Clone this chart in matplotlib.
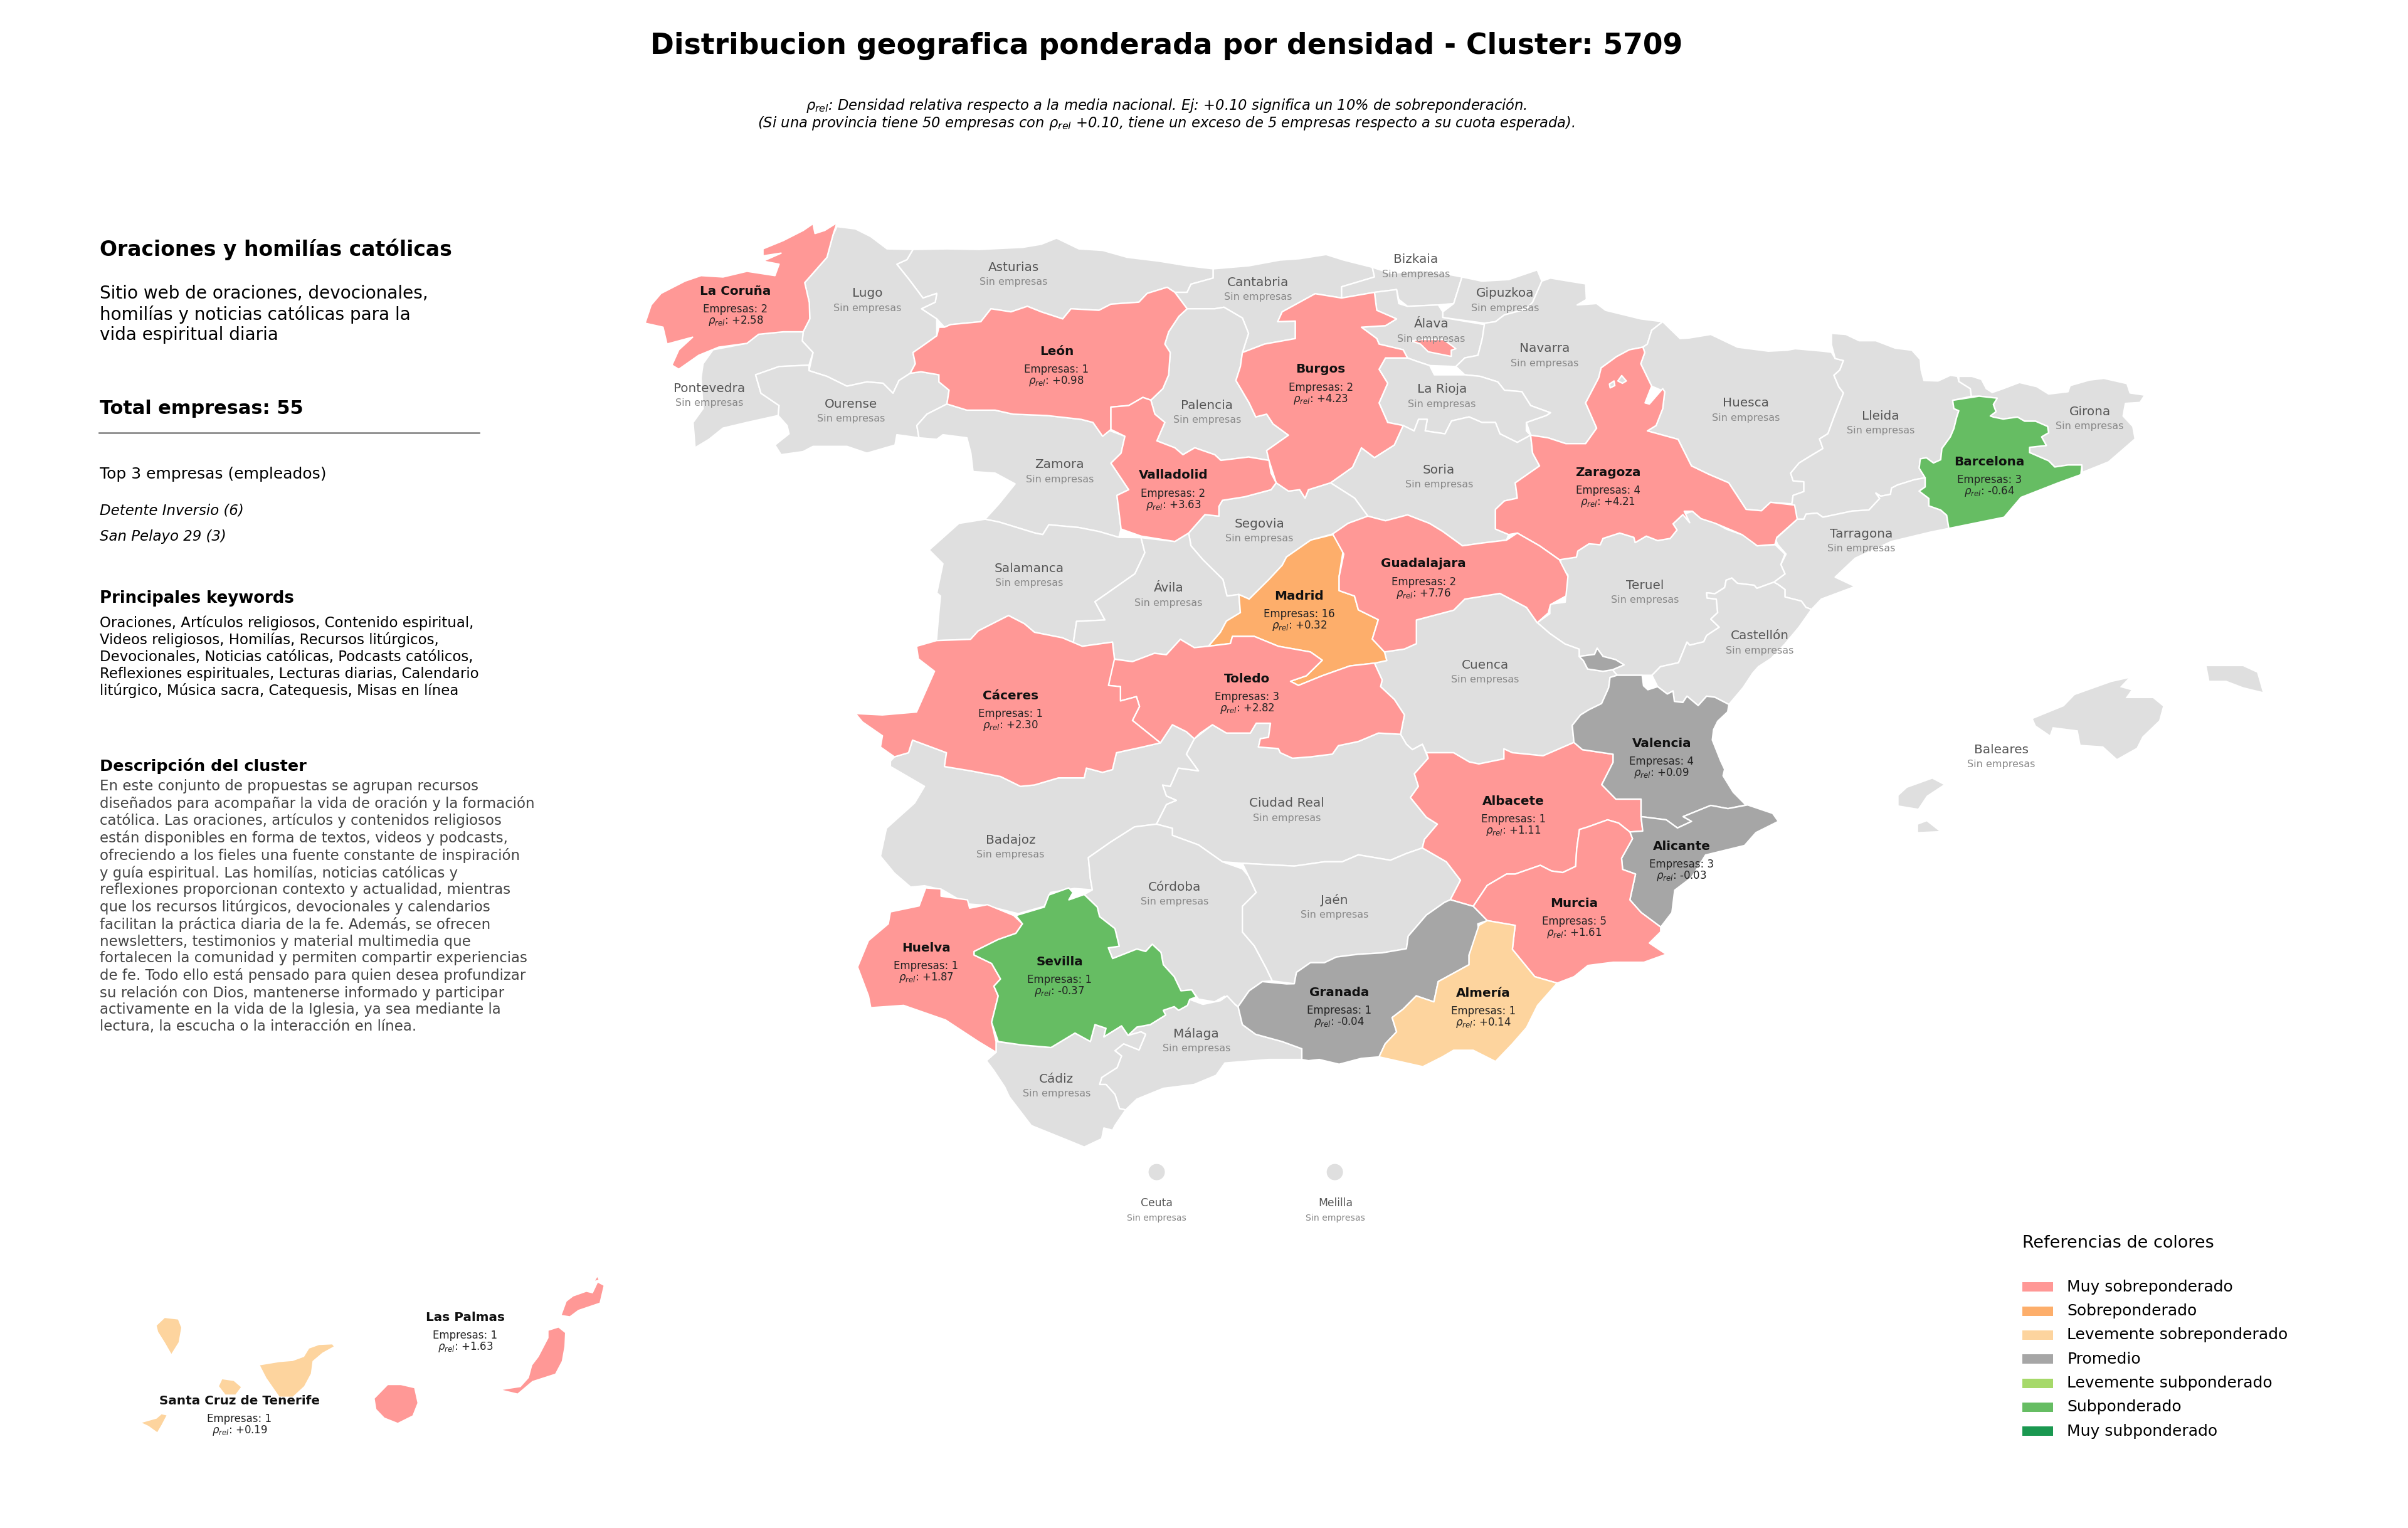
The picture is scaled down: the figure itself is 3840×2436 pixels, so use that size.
import matplotlib
matplotlib.use("Agg")
import matplotlib.pyplot as plt
from matplotlib.patches import Ellipse, Rectangle

TITLE = "Distribucion geografica ponderada por densidad - Cluster: 5709"
SUBTITLE = [
    r"$\rho_{rel}$: Densidad relativa respecto a la media nacional. Ej: +0.10 significa un 10% de sobreponderación.",
    r"(Si una provincia tiene 50 empresas con $\rho_{rel}$ +0.10, tiene un exceso de 5 empresas respecto a su cuota esperada).",
]
HEADING = "Oraciones y homilías católicas"
SUMMARY = "Sitio web de oraciones, devocionales,\nhomilías y noticias católicas para la\nvida espiritual diaria"
TOTAL = "Total empresas: 55"
TOP_TITLE = "Top 3 empresas (empleados)"
TOP_COMPANIES = ["Detente Inversio (6)", "San Pelayo 29 (3)"]
KEYWORDS = ("Oraciones, Artículos religiosos, Contenido espiritual,\n"
            "Videos religiosos, Homilías, Recursos litúrgicos,\n"
            "Devocionales, Noticias católicas, Podcasts católicos,\n"
            "Reflexiones espirituales, Lecturas diarias, Calendario\n"
            "litúrgico, Música sacra, Catequesis, Misas en línea")
DESCRIPTION = ("En este conjunto de propuestas se agrupan recursos\n"
               "diseñados para acompañar la vida de oración y la formación\n"
               "católica. Las oraciones, artículos y contenidos religiosos\n"
               "están disponibles en forma de textos, videos y podcasts,\n"
               "ofreciendo a los fieles una fuente constante de inspiración\n"
               "y guía espiritual. Las homilías, noticias católicas y\n"
               "reflexiones proporcionan contexto y actualidad, mientras\n"
               "que los recursos litúrgicos, devocionales y calendarios\n"
               "facilitan la práctica diaria de la fe. Además, se ofrecen\n"
               "newsletters, testimonios y material multimedia que\n"
               "fortalecen la comunidad y permiten compartir experiencias\n"
               "de fe. Todo ello está pensado para quien desea profundizar\n"
               "su relación con Dios, mantenerse informado y participar\n"
               "activamente en la vida de la Iglesia, ya sea mediante la\n"
               "lectura, la escucha o la interacción en línea.")

LEGEND_LABELS = ["Muy sobreponderado", "Sobreponderado", "Levemente sobreponderado", "Promedio",
                 "Levemente subponderado", "Subponderado", "Muy subponderado"]
LEGEND_COLORS = ["#ff9896", "#fdae6b", "#fdd49e", "#a6a6a6", "#a6d96a", "#66bd63", "#1a9850"]
LAND = "#dfdfdf"

# provinces with companies
NAMES = ["La Coruña", "León", "Burgos", "Valladolid", "Zaragoza", "Barcelona", "Madrid", "Guadalajara",
         "Toledo", "Cáceres", "Albacete", "Valencia", "Alicante", "Murcia", "Huelva", "Sevilla",
         "Granada", "Almería", "Las Palmas", "Santa Cruz de Tenerife"]
EMPRESAS = [2, 1, 2, 2, 4, 3, 16, 2, 3, 1, 1, 4, 3, 5, 1, 1, 1, 1, 1, 1]
RHO = [2.58, 0.98, 4.23, 3.63, 4.21, -0.64, 0.32, 7.76, 2.82, 2.30, 1.11, 0.09, -0.03, 1.61, 1.87,
       -0.37, -0.04, 0.14, 1.63, 0.19]
# provinces without companies
EMPTY_NAMES = ["Asturias", "Lugo", "Cantabria", "Bizkaia", "Gipuzkoa", "Álava", "Navarra", "Pontevedra",
               "Ourense", "Palencia", "La Rioja", "Huesca", "Lleida", "Girona", "Soria", "Zamora", "Segovia",
               "Tarragona", "Salamanca", "Ávila", "Teruel", "Castellón", "Cuenca", "Ciudad Real", "Badajoz",
               "Córdoba", "Jaén", "Málaga", "Cádiz", "Baleares", "Ceuta", "Melilla"]
ISLANDS = ["Baleares", "Las Palmas", "Santa Cruz de Tenerife"]

# outlines, map units
LA_CORUNA = [[(545, 145), (542.4, 153), (538.5, 167.5), (524, 184), (527, 197), (527.3, 207.6), (523, 216), (510, 216),
              (494, 217.6), (486.4, 223.5), (468, 226), (455, 231.3), (442, 240.4), (437.5, 237.7), (442, 227.7),
              (451, 219.5), (434.3, 224), (431.7, 213), (420, 210.4), (424, 198.5), (430.4, 191), (446, 183),
              (456.5, 179.4), (470.8, 180.3), (486.4, 176.6), (504.6, 179.4), (507.3, 172), (496.8, 170),
              (508.6, 164.8), (496.8, 166.6), (496.8, 162), (510, 156.6), (523, 150), (529.4, 145.6), (530.7, 152),
              (537, 150)]]
LUGO = [[(545, 147.5), (557, 149), (567, 154), (577.6, 162), (594.5, 162.4), (590.6, 169), (584, 172), (592, 182),
         (601, 194), (610, 191), (609, 196.7), (600, 201), (610, 207.6), (610, 218.6), (601, 225), (594.5, 229.5),
         (596, 236.8), (592.7, 243), (585.4, 247.7), (581.5, 256), (575, 249.5), (564.5, 248.6), (551.5, 251.4),
         (538.5, 245), (526.8, 241.3), (529.4, 229.5), (522.4, 222), (523, 216), (527.3, 207.6), (527, 197),
         (524, 184), (538.5, 167.5), (542.4, 153)]]
ASTURIAS = [[(594.5, 162.4), (616.6, 162), (637.5, 162.4), (666, 161), (678, 159), (688, 155), (702.5, 162), (718, 163),
             (734, 167.5), (754.6, 170), (773, 173), (790, 175), (790, 181), (775.5, 185), (773, 190.3), (765, 190.3),
             (760, 187), (747, 191), (741.6, 196.7), (723.4, 198), (715.6, 202), (697.4, 201), (692, 207.6),
             (678, 203), (669, 199.4), (658.3, 203), (645.3, 201), (638.7, 209.4), (619, 211.3), (615, 213),
             (610, 207.6), (600, 201), (609, 196.7), (610, 191), (601, 194), (592, 182), (584, 172), (590.6, 169)]]
LEON = [[(615, 213), (619, 211.3), (638.7, 209.4), (645.3, 201), (658.3, 203), (669, 199.4), (678, 203), (692, 207.6),
         (697.4, 201), (715.6, 202), (723.4, 198), (741.6, 196.7), (747, 191), (760, 187), (765, 190.3), (773, 201),
         (767.6, 206), (761, 216), (758.5, 224), (762, 229.5), (761, 244), (757.2, 253), (749.4, 260.5),
         (744.2, 258.7), (735, 264), (723.4, 265), (723.4, 279.6), (718, 284), (711.7, 275), (704, 273),
         (681.7, 270.5), (659.6, 269.6), (648, 267), (629.6, 267), (616.6, 263), (618, 254), (611.4, 248.6),
         (611.4, 244), (599.7, 242), (592.7, 243), (596, 236.8), (594.5, 229.5), (601, 225), (610, 218.6),
         (611.4, 213)]]
VALLADOLID = [[(723.4, 265), (735, 264), (744.2, 258.7), (749.4, 260.5), (752, 269.6), (758.5, 275), (753.3, 287),
               (765, 291.5), (770.3, 296), (778, 291.5), (791, 296), (795, 299.7), (813, 297.5), (826.3, 299.7),
               (827.7, 308), (831, 314.3), (827.7, 318.8), (810.5, 323.4), (796, 325.7), (793.7, 329.7), (793.7, 336),
               (784.6, 335), (774, 347), (765, 352.5), (743, 349), (730, 344.4), (727.3, 322.5), (735, 318.8),
               (723.4, 301.5), (730, 295), (732.5, 284), (723.4, 279.6)]]
BURGOS = [[(809, 229.5), (823.4, 224), (843.5, 220.4), (843.5, 209), (832, 209.4), (834.9, 203), (856.4, 191.2),
           (873.6, 194), (895, 190.3), (896.5, 202), (909.4, 207.6), (902.2, 212), (886.5, 213), (896.5, 220.4),
           (898, 224), (913.7, 227.7), (916.5, 233), (902.2, 233), (898, 240.4), (903.6, 249.5), (898, 262.3),
           (903.6, 275), (913.7, 277), (907.9, 289.7), (895, 297.9), (886.5, 291.5), (880.7, 304.2), (866.4, 314.3),
           (852, 318.8), (849.8, 324.3), (846.3, 318.8), (839, 319.7), (831, 314.3), (826.3, 299.7), (824.8, 293.3),
           (839, 283.3), (829, 276), (824.8, 269.6), (817.7, 271.4), (813.4, 262.3), (804.8, 247.7), (807.7, 238.6)],
          [(919, 222), (925, 221), (940, 221), (948, 227), (945, 228), (945, 232), (930, 229), (925, 224)]]
PALENCIA = [[(773, 201), (791, 201), (797, 200), (809, 207), (813, 217), (809, 229.5), (807.7, 238.6), (804.8, 247.7),
             (813.4, 262.3), (817.7, 271.4), (824.8, 269.6), (829, 276), (839, 283.3), (824.8, 293.3), (826.3, 299.7),
             (813, 297.5), (795, 299.7), (791, 296), (778, 291.5), (770.3, 296), (765, 291.5), (753.3, 287),
             (758.5, 275), (752, 269.6), (749.4, 260.5), (757.2, 253), (761, 244), (762, 229.5), (758.5, 224),
             (761, 216), (767.6, 206)]]
CANTABRIA = [[(790, 175), (813.4, 173), (833.4, 169.3), (846.3, 168.4), (863.5, 165.7), (875, 169.3), (893.6, 174),
              (895, 180.3), (873.6, 186.7), (874, 194), (856.4, 191.2), (834.9, 203), (832, 209.4), (843.5, 209),
              (843.5, 220.4), (823.4, 224), (809, 229.5), (813, 217), (809, 207), (797, 200), (791, 201), (773, 201),
              (765, 190.3), (773, 190.3), (775.5, 185), (790, 181)]]
BIZKAIA = [[(893.6, 174), (906, 178), (925, 176), (940, 178), (952, 180.3), (946.6, 197.6), (936.6, 198.5),
            (916.5, 199.4), (910.8, 194.9), (909.4, 188.5), (902.2, 189.4), (895, 190.3), (873.6, 194), (873.6, 186.7),
            (895, 180.3)]]
GIPUZKOA = [[(952, 180.3), (965, 183), (982.4, 182), (1001, 175.7), (1004, 183), (998, 196.7), (993.9, 201.2),
             (979.6, 205), (973.8, 209.4), (966.7, 210.4), (939.5, 206.7), (939.5, 203), (946.6, 197.6)]]
ALAVA = [[(896.5, 202), (895, 190.3), (902.2, 189.4), (909.4, 188.5), (910.8, 197.6), (916.5, 199.4), (936.6, 198.5),
          (939.5, 203), (939.5, 206.7), (966.7, 211.3), (965.2, 220.4), (962.4, 231.3), (953.8, 233), (948, 238.6),
          (931, 238), (922, 235), (916.5, 233), (913.7, 227.7), (898, 224), (896.5, 220.4), (886.5, 213),
          (902.2, 212), (909.4, 207.6)]]
NAVARRA = [[(1004, 183), (1009.6, 181), (1015.4, 182), (1032.5, 184.8), (1033, 195), (1027, 198.5), (1039.7, 197.6),
            (1045.5, 202), (1068.4, 207.6), (1082.7, 209.4), (1075.5, 215), (1072.7, 224), (1069.8, 226), (1061, 227.7),
            (1052.6, 232.2), (1042.6, 239.5), (1041, 246), (1032.5, 262.3), (1039.7, 278.7), (1032.5, 288.8),
            (1019.6, 288.8), (1008, 285), (996.7, 283.3), (993.9, 275), (1006.8, 270.5), (1009.6, 268.7), (996.7, 264),
            (991, 255), (979.6, 254), (975.3, 248.6), (963.8, 245), (953.8, 244), (948, 238.6), (953.8, 233),
            (962.4, 231.3), (965.2, 220.4), (966.7, 210.4), (973.8, 209.4), (979.6, 205), (993.9, 201.2), (998, 196.7)]]
LA_RIOJA = [[(916.5, 233), (922, 235), (931, 238), (934, 244), (942, 244), (953.8, 244), (963.8, 245), (975.3, 248.6),
             (979.6, 254), (991, 255), (996.7, 264), (1009.6, 268.7), (1006.8, 270.5), (993.9, 275), (993.9, 280.5),
             (996.7, 283.3), (988, 288), (976.7, 282.4), (973.8, 275), (965, 275), (956.6, 271.4), (945.2, 274),
             (940.9, 282.4), (928, 280.5), (929.4, 273), (923.7, 273), (920.8, 280.5), (913.7, 277), (903.6, 275),
             (898, 262.3), (903.6, 249.5), (898, 240.4), (902.2, 233)]]
SORIA = [[(913.7, 277), (920.8, 280.5), (923.7, 273), (929.4, 273), (928, 280.5), (940.9, 282.4), (945.2, 274),
          (956.6, 271.4), (965, 275), (973.8, 275), (976.7, 282.4), (988, 288), (996.7, 283.3), (998, 295),
          (1002.5, 303.3), (986.7, 314.3), (988, 324.3), (979.6, 326.1), (973.8, 331.6), (973.8, 344.4), (982.4, 348),
          (981, 351.6), (965.2, 353.5), (952.3, 355.3), (939.5, 346), (930.8, 340.7), (916.5, 335.2), (902.2, 339),
          (890.7, 336), (882.1, 324.3), (866.4, 314.3), (880.7, 304.2), (886.5, 291.5), (895, 297.9), (907.9, 289.7)]]
ZARAGOZA = [[(1069.8, 226), (1071, 229.5), (1068.4, 236.8), (1075.5, 251.4), (1071.2, 262.3), (1074, 263), (1082.7, 253),
             (1084, 255), (1082.7, 266), (1078.4, 277), (1072.7, 280.5), (1092.7, 286), (1101.4, 303.3), (1112.8, 308.8),
             (1125.7, 314.3), (1137, 331.6), (1147, 332.5), (1152.9, 327), (1168.6, 328.8), (1170.3, 338),
             (1157, 349.8), (1155.8, 354.4), (1144.3, 355.3), (1134.3, 348), (1117, 340.7), (1107.6, 337.6), (1102, 332.8),
             (1096.7, 332.8), (1100.3, 340.3), (1095.8, 335), (1089.4, 341), (1092, 345), (1087.6, 350.5), (1079.4, 351.9),
             (1072, 349), (1064.8, 353.2), (1063.9, 349.8), (1054.7, 347), (1043.8, 350.5), (1042, 354.6), (1034.7, 354),
             (1027.4, 358.7), (1026.5, 362.7), (1015.4, 364.4), (1002.5, 355.3), (988, 347), (982.4, 348), (973.8, 344.4),
             (973.8, 331.6), (979.6, 326.1), (988, 324.3), (986.7, 314.3), (1002.5, 303.3), (998, 295), (996.7, 283.3),
             (1008, 285), (1019.6, 288.8), (1032.5, 288.8), (1039.7, 278.7), (1032.5, 262.3), (1041, 246), (1042.6, 239.5),
             (1052.6, 232.2), (1061, 227.7)]]
ZARAGOZA_HOLES = [[(1048, 250), (1051, 248), (1051.5, 251), (1048.5, 252.5)],
                  [(1053.5, 248), (1056, 244.5), (1059, 248), (1056.5, 249.5)]]
HUESCA = [[(1082.7, 209.4), (1094, 220.4), (1100, 220), (1114, 217.7), (1131.4, 226), (1151.5, 228.6), (1163.7, 228),
           (1169, 227), (1187, 228.6), (1192.6, 229.3), (1195, 233.4), (1200.4, 234.7), (1198, 240.9), (1194.2, 244.3),
           (1197.3, 251.7), (1200.4, 255.8), (1194, 272.1), (1190.3, 282.3), (1184.8, 285.7), (1187, 292), (1179.3, 296.6),
           (1171.5, 301.4), (1166, 308), (1167.6, 313), (1174.6, 313.6), (1174.6, 320), (1167.6, 322.5), (1166.8, 328),
           (1152.9, 327), (1147, 332.5), (1137, 331.6), (1125.7, 314.3), (1112.8, 308.8), (1101.4, 303.3), (1092.7, 286),
           (1072.7, 280.5), (1078.4, 277), (1082.7, 266), (1084, 255), (1075.5, 251.4), (1068.4, 236.8), (1071, 229.5),
           (1069.8, 226), (1072.7, 224), (1075.5, 215)]]
LLEIDA = [[(1192.6, 217), (1202, 217.7), (1210.6, 221.8), (1221.5, 221.8), (1234, 226.6), (1245, 228), (1250.4, 234),
           (1251, 240.9), (1252.8, 247.7), (1262, 248), (1270, 244.3), (1274.7, 245), (1275.5, 248.3), (1283, 253),
           (1283.7, 258), (1271.5, 260.6), (1272.3, 266), (1275.5, 267.4), (1274, 272), (1272.3, 279), (1270, 284.4),
           (1264.5, 292), (1263.7, 299.3), (1259, 301.4), (1254.4, 298), (1250.4, 298.7), (1249.7, 304.8), (1253.6, 311),
           (1246.5, 312.3), (1235.6, 315.7), (1231.7, 317.7), (1231, 321.8), (1224.7, 323), (1221.5, 321), (1224, 324.5),
           (1217, 332), (1206, 332.7), (1187, 336.7), (1183.2, 334), (1176, 334.7), (1174.6, 338), (1170.3, 338),
           (1166.8, 328), (1167.6, 322.5), (1174.6, 320), (1174.6, 313.6), (1167.6, 313), (1166, 308), (1171.5, 301.4),
           (1179.3, 296.6), (1187, 292), (1184.8, 285.7), (1190.3, 282.3), (1194, 272.1), (1200.4, 255.8), (1197.3, 251.7),
           (1194.2, 244.3), (1198, 240.9), (1200.4, 234.7), (1195, 233.4), (1192.6, 224.5)]]
GIRONA = [[(1275.5, 245), (1284, 245), (1290.3, 247), (1293.4, 253), (1297.3, 255.5), (1304.4, 253), (1315, 249),
           (1326.3, 251.7), (1334, 256.5), (1346.6, 255), (1348, 251), (1360.6, 247.4), (1370, 246.3), (1385, 249.7),
           (1387, 255.8), (1396.6, 257.2), (1393.5, 262), (1384, 262.6), (1382.5, 270.8), (1388.8, 277.6), (1390.3, 285.7),
           (1382.5, 292.5), (1373, 300.7), (1356, 307.5), (1355.6, 302.7), (1346.6, 302.7), (1338, 304), (1334, 300),
           (1321.6, 294.6), (1321.6, 291.2), (1332.5, 290), (1329.4, 284.4), (1334, 281.7), (1333.3, 277.6), (1325.5, 274.2),
           (1318.4, 274.2), (1313.7, 271.5), (1304.4, 272.8), (1298, 271.5), (1296, 270.8), (1299.7, 268), (1298, 263.3),
           (1300.5, 259.2), (1288.7, 257.9), (1283.7, 258), (1283, 253), (1275.5, 248.3)]]
BARCELONA = [[(1271.5, 260.6), (1288.7, 257.9), (1300.5, 259.2), (1298, 263.3), (1299.7, 268), (1296, 270.8), (1298, 271.5),
              (1304.4, 272.8), (1313.7, 271.5), (1318.4, 274.2), (1325.5, 274.2), (1333.3, 277.6), (1334, 281.7),
              (1329.4, 284.4), (1332.5, 290), (1321.6, 291.2), (1321.6, 294.6), (1334, 300), (1338, 304), (1346.6, 302.7),
              (1355.6, 302.7), (1355, 309), (1340.3, 314.3), (1316, 323.8), (1305, 336.7), (1269, 344), (1267.6, 335.4),
              (1263.7, 332), (1256, 329.3), (1256, 324.5), (1249.7, 319.7), (1253.6, 317), (1253.6, 311), (1249.7, 304.8),
              (1250.4, 298.7), (1254.4, 298), (1259, 301.4), (1263.7, 299.3), (1264.5, 292), (1270, 284.4), (1272.3, 279),
              (1274, 272), (1275.5, 267.4), (1272.3, 266)]]
TARRAGONA = [[(1170.3, 338), (1174.6, 338), (1176, 334.7), (1183.2, 334), (1187, 336.7), (1206, 332.7), (1217, 332),
              (1224, 324.5), (1221.5, 321), (1224.7, 323), (1231, 321.8), (1231.7, 317.7), (1235.6, 315.7), (1246.5, 312.3),
              (1253.6, 311), (1253.6, 317), (1249.7, 319.7), (1256, 324.5), (1256, 329.3), (1263.7, 332), (1267.6, 335.4),
              (1269, 344), (1257.5, 346.3), (1231.6, 352.5), (1208, 363.4), (1195, 375.7), (1208, 381.8), (1186, 390),
              (1179.6, 396.7), (1176, 395.4), (1173, 391.3), (1162.3, 388.6), (1162.3, 383.8), (1157.7, 380.4), (1155, 379),
              (1162.3, 373.6), (1159.6, 367.5), (1163, 360.7), (1157.7, 354.6), (1156, 351)]]
TERUEL = [[(1016.5, 364.1), (1026.5, 362.7), (1027.4, 358.7), (1034.7, 354), (1042, 354.6), (1043.8, 350.5), (1054.7, 347),
           (1063.9, 349.8), (1064.8, 353.2), (1072, 349), (1079.4, 351.9), (1087.6, 350.5), (1092, 345), (1089.4, 341),
           (1095.8, 335), (1102, 332.8), (1107.6, 337.6), (1116.7, 340.3), (1124, 344.4), (1136.8, 349), (1144, 355.3),
           (1156, 354.6), (1162.3, 360.7), (1159.6, 367.5), (1162.3, 373.6), (1155, 379), (1144, 383), (1142.3, 381),
           (1131.3, 379.7), (1127.7, 376.3), (1124, 377.7), (1123, 382.5), (1116.7, 386.5), (1111.3, 385.9), (1111.6, 389.3),
           (1117.6, 390), (1118.5, 398.8), (1114, 403), (1119.5, 408.3), (1111.3, 413.7), (1109.4, 417.8), (1100.3, 420),
           (1098.5, 418), (1093, 431.4), (1081.2, 434), (1075.7, 439.6), (1069.3, 439.6), (1053, 439.6), (1050, 436),
           (1057.5, 432.8), (1052, 429.4), (1043.8, 427.3), (1040, 422), (1038.3, 426), (1028.3, 427.3), (1028.3, 422.6),
           (1019, 419.2), (1009.2, 412.4), (1001, 405.3), (1009.2, 399.5), (1009.2, 393.3), (1019.2, 392), (1020, 381),
           (1021, 374.3), (1015.5, 369)]]
CASTELLON = [[(1179.6, 396.7), (1176, 395.4), (1173, 391.3), (1162.3, 388.6), (1162.3, 383.8), (1157.7, 380.4), (1155, 379),
              (1144, 383), (1142.3, 381), (1131.3, 379.7), (1127.7, 376.3), (1124, 377.7), (1123, 382.5), (1116.7, 386.5),
              (1111.3, 385.9), (1111.6, 389.3), (1117.6, 390), (1118.5, 398.8), (1114, 403), (1119.5, 408.3), (1111.3, 413.7),
              (1109.4, 417.8), (1100.3, 420), (1098.5, 418), (1093, 431.4), (1081.2, 434), (1075.7, 439.6), (1079.4, 447),
              (1085.7, 451.8), (1089.4, 449.8), (1090.3, 456.6), (1095.8, 457.3), (1098.5, 453.2), (1105.8, 459.3),
              (1111.3, 453.2), (1116.7, 453.9), (1125.8, 458.6), (1135, 447.7), (1141.3, 438.2), (1145, 434), (1153.2, 428.7),
              (1162.3, 419.2), (1171.4, 408.3)]]
VALENCIA = [[(1048.4, 441), (1053, 439.6), (1069.3, 439.6), (1070.2, 446.4), (1073, 449), (1079.4, 447), (1085.7, 451.8),
             (1089.4, 449.8), (1090.3, 456.6), (1095.8, 457.3), (1098.5, 453.2), (1105.8, 459.3), (1111.3, 453.2),
             (1116.7, 453.9), (1125.8, 458.6), (1125, 463.4), (1118.5, 469.5), (1115.8, 475), (1115, 481.7), (1120.4, 495.3),
             (1123, 500.8), (1122, 505), (1128.6, 515.7), (1136.8, 524), (1125.2, 526.4), (1114, 524.3), (1096, 531.6),
             (1101.5, 534.7), (1092.3, 539), (1085, 533.7), (1068.6, 531.6), (1068.6, 520.2), (1052.2, 520.2), (1043, 510.8),
             (1050.4, 496.2), (1050.4, 491), (1030.4, 488), (1024.9, 483.3), (1023.8, 472.2), (1029.2, 465.4), (1034.7, 462),
             (1042.9, 458), (1047.5, 447.7)],
            [(1028.3, 427.3), (1038.3, 426), (1040, 422), (1043.8, 427.3), (1052, 429.4), (1057.5, 432.8), (1050, 436),
             (1043.8, 437), (1033.8, 435.5), (1031, 430)]]
ALICANTE = [[(1068.6, 531.6), (1085, 533.7), (1092.3, 539), (1101.5, 534.7), (1096, 531.6), (1114, 524.3), (1125.2, 526.4),
             (1138, 524), (1154.3, 529.5), (1158, 534.7), (1143.4, 542), (1136, 550.4), (1110.6, 556.6), (1101.5, 571.2),
             (1090.5, 579.5), (1088.7, 594), (1081.4, 603.5), (1068.6, 594), (1061.3, 585.8), (1065, 569), (1056.6, 566),
             (1055.9, 558.7), (1063, 546), (1061.3, 541.6), (1069.7, 541)]]
MURCIA = [[(959.3, 590), (968.4, 576.4), (981, 569), (986.6, 569), (1003, 563.3), (1010.3, 567), (1017.6, 568), (1026, 564),
           (1026.7, 552.5), (1028.5, 540), (1034, 538.3), (1046.8, 533.7), (1054, 535.8), (1061.3, 541.6), (1063, 546),
           (1055.9, 558.7), (1056.6, 566), (1065, 569), (1061.3, 585.8), (1068.6, 594), (1081.4, 603.5), (1081.4, 606.6),
           (1074, 613.9), (1085, 621.2), (1070.5, 626.4), (1050.4, 626.4), (1034, 628.5), (1025, 635.8), (1014, 640),
           (999.4, 635.8), (984.8, 618), (986.6, 602.4), (968.4, 599.3)]]
ALBACETE = [[(928.8, 490), (939.2, 490), (946.5, 490), (956.7, 496), (963, 497.3), (979.3, 494), (979.3, 487.5), (984.8, 490),
             (1004.8, 492), (1024.9, 483.3), (1030.4, 488), (1050.4, 491), (1050.4, 496.2), (1043, 510.8), (1052.2, 520.2),
             (1068.6, 520.2), (1068.6, 531.6), (1069.7, 541), (1061.3, 541.6), (1054, 535.8), (1046.8, 533.7), (1034, 538.3),
             (1028.5, 540), (1026.7, 552.5), (1026, 564), (1017.6, 568), (1010.3, 567), (1003, 563.3), (986.6, 569), (981, 569),
             (968.4, 576.4), (959.3, 590), (944.4, 585.7), (951, 573), (941.8, 561), (926.2, 552), (927.5, 546.5), (936, 536.5),
             (928.8, 532), (918.4, 519.2), (923.6, 511.9), (921, 503.7), (930, 493.6)]]
CUENCA = [[(922.3, 403.6), (946.6, 397.2), (953.8, 390), (976.7, 386.3), (994, 395.4), (1001, 405.3), (1009.2, 412.4),
           (1019, 419.2), (1028.3, 422.6), (1028.3, 427.3), (1031, 430), (1033.8, 435.5), (1043.8, 437), (1050, 436),
           (1053, 439.6), (1048.4, 441), (1047.5, 447.7), (1042.9, 458), (1034.7, 462), (1029.2, 465.4), (1023.8, 472.2),
           (1024.9, 483.3), (1004.8, 492), (984.8, 490), (979.3, 487.5), (979.3, 494), (963, 497.3), (956.7, 496),
           (946.5, 490), (928.8, 490), (926.2, 484.5), (919.7, 488), (915.8, 484.5), (912, 478), (914.5, 465.4), (908, 455.4),
           (899, 447), (900, 442.6), (895, 431.7), (903, 430), (901.5, 424.4), (914.5, 422.5), (922.3, 419)]]
GUADALAJARA = [[(867.8, 347.6), (877.8, 340.7), (890.7, 336), (902.2, 339), (916.5, 335.2), (930.8, 340.7), (939.5, 346),
                (952.3, 355.3), (965.2, 353.5), (981, 351.6), (988, 347), (1002.5, 355.3), (1015.4, 364.4), (1021, 375.3),
                (1019.7, 388), (1009.6, 393.6), (1008.2, 399), (1001, 405.4), (994, 395.4), (976.7, 386.3), (953.8, 390),
                (946.6, 397.2), (922.3, 403.6), (922.3, 419), (914.5, 422.5), (901.5, 424.4), (893.6, 416), (897.5, 403.4),
                (884.5, 397), (882, 388), (872, 384.5), (872, 375.3), (875, 360.7)]]
MADRID = [[(867.8, 348), (875, 356), (872, 375), (872, 384.5), (882, 388), (884.5, 397), (897.5, 403.4), (893.6, 416),
           (901.5, 424.4), (903, 430), (895, 431.7), (879, 433.5), (861, 439.9), (845.5, 446.2), (840.3, 443.5), (850.7, 439.9),
           (861, 429.8), (853.3, 424.4), (832.4, 420.7), (816.8, 414.3), (802.5, 414.3), (801.2, 418.9), (786.9, 420.7),
           (794.7, 411.6), (798.6, 404.3), (807.7, 398.8), (806.7, 387), (813.4, 390), (826.3, 377.2), (834.9, 368),
           (837.7, 362.6), (853.5, 351.6)]]
TOLEDO = [[(724.4, 429), (737.4, 430.7), (751.7, 425.3), (759.5, 426.2), (768.6, 416.2), (777.7, 421.6), (786.9, 420.7),
           (801.2, 418.9), (802.5, 414.3), (816.8, 414.3), (832.4, 420.7), (853.3, 424.4), (861, 429.8), (850.7, 439.9),
           (840.3, 443.5), (845.5, 446.2), (861, 439.9), (879, 433.5), (895, 431.7), (900, 442.6), (899, 447), (908, 455.4),
           (914.5, 465.4), (912, 478), (897.6, 477.2), (884.5, 482.7), (871.5, 485.4), (867.6, 490.9), (853.3, 492.7),
           (841.6, 493.6), (833.7, 490), (832.4, 487.3), (819.4, 486.3), (820.7, 480.9), (826, 480), (827.3, 470.8),
           (818, 470.8), (814.2, 477.2), (798.6, 477.2), (789.5, 471.8), (781.6, 477.2), (777.7, 480.9), (772.5, 476.3),
           (763.4, 471.8), (755.6, 483.6), (737.4, 469), (742, 459.9), (740, 453.5), (729.6, 456.3), (729.6, 447), (721.8, 446.2)]]
CACERES = [[(596.8, 420.7), (609.8, 417), (632, 416.2), (637, 410.7), (656.7, 400.7), (667, 406), (673.6, 411.6), (691.8, 415.2),
            (704.8, 420.7), (724.4, 418), (725.7, 429), (721.8, 446.2), (729.6, 447), (729.6, 456.3), (740, 453.5), (742, 459.9),
            (737.4, 469), (755.6, 483.6), (743.9, 486.3), (727, 490), (724.4, 501), (717.9, 502.8), (707.4, 500), (706, 506.4),
            (689.2, 506.4), (673.6, 511), (664.5, 511.9), (651.5, 505.5), (632, 501.8), (615, 499), (616.3, 490), (594.2, 481.8),
            (591.6, 490), (582.4, 492.7), (573.3, 486.3), (574.6, 479), (561.6, 470), (557, 464.5), (574.6, 465.4), (596.8, 463.5),
            (608.5, 437), (598, 428.9)]]
SALAMANCA = [[(641.4, 338), (650.5, 339.8), (674, 347), (679, 348), (683, 341.6), (702.5, 343.4), (715.6, 346), (728.6, 349.8),
              (743, 350), (745.5, 359.8), (739, 373.5), (720.8, 386.3), (713, 391.7), (719.5, 403.6), (701, 404.5), (698.6, 420.5),
              (704.8, 420.7), (691.8, 415.2), (673.6, 411.6), (667, 406), (656.7, 400.7), (637, 410.7), (632, 416.2), (609.8, 417),
              (611, 402.5), (612.4, 388), (610, 386), (614, 367), (605, 358), (624.4, 340.7)]]
ZAMORA = [[(616.6, 263), (629.6, 267), (648, 267), (659.6, 269.6), (681.7, 270.5), (704, 273), (711.7, 275), (718, 284), (720.8, 279.6),
           (732.5, 284), (730, 295), (723.4, 301.5), (735, 318.8), (727.3, 322.5), (730, 344.4), (728.6, 349.8), (715.6, 346),
           (702.5, 343.4), (683, 341.6), (679, 348), (674, 347), (650.5, 339.8), (641.4, 338), (650.5, 328), (661, 315), (648, 308),
           (633.6, 307), (632.2, 295), (629.6, 285), (614, 283), (610, 286), (598.4, 285), (597, 277), (603.6, 269.6)]]
OURENSE = [[(526.8, 237.7), (507.3, 238.6), (492, 244), (495.5, 256), (507.3, 264), (506.7, 270.5), (512.5, 277), (513.8, 282.4),
            (504.6, 289.7), (508.6, 296), (522.9, 294), (529.4, 290.6), (551.5, 290.6), (564.5, 295), (582.8, 289.7), (584, 283),
            (598.4, 285), (597, 277), (603.6, 269.6), (616.6, 263), (618, 254), (611.4, 248.6), (611.4, 244), (599.7, 242),
            (592.7, 243), (585.4, 247.7), (581.5, 256), (575, 249.5), (564.5, 248.6), (551.5, 251.4), (538.5, 245), (526.8, 241.3)]]
PONTEVEDRA = [[(494, 217.6), (510, 216), (523, 216), (522.4, 222), (529.4, 229.5), (526.8, 237.7), (507.3, 238.6), (492, 244),
               (495.5, 256), (507.3, 264), (506.7, 270.5), (486.4, 275), (470.8, 278.7), (461.7, 286), (452.6, 291.5), (451.3, 275),
               (457.8, 266), (456.5, 246), (457.8, 236.8), (464.3, 227.7), (486.4, 223.5)]]
SEGOVIA = [[(774, 347), (784.6, 335), (793.7, 336), (793.7, 329.7), (796, 325.7), (810.5, 323.4), (827.7, 318.8), (831, 314.3),
            (839, 319.7), (846.3, 318.8), (849.8, 324.3), (852, 318.8), (866.4, 314.3), (882.1, 324.3), (890.7, 336), (877.8, 340.7),
            (867.8, 347.6), (853.5, 351.6), (837.7, 362.6), (834.9, 368), (826.3, 377.2), (813.4, 390), (806.7, 387), (799, 388),
            (796.3, 377.2), (783.3, 364.4), (775.5, 355.3)]]
AVILA = [[(743, 350), (765, 352.5), (774, 347), (775.5, 355.3), (783.3, 364.4), (796.3, 377.2), (799, 388), (806.7, 387),
          (807.7, 398.8), (798.6, 404.3), (794.7, 411.6), (786.9, 420.7), (777.7, 421.6), (768.6, 416.2), (759.5, 426.2),
          (751.7, 425.3), (737.4, 430.7), (725.7, 429), (724.4, 418), (704.8, 420.7), (698.6, 420.5), (701, 404.5), (719.5, 403.6),
          (713, 391.7), (720.8, 386.3), (739, 373.5), (745.5, 359.8)]]
BADAJOZ = [[(579.8, 495.5), (582.4, 492.7), (591.6, 490), (594.2, 481.8), (616.3, 490), (615, 499), (632, 501.8), (651.5, 505.5),
            (664.5, 511.9), (673.6, 511), (689.2, 506.4), (706, 506.4), (707.4, 500), (717.9, 502.8), (724.4, 501), (727, 490),
            (743.9, 486.3), (755.6, 483.6), (763.4, 471.8), (772.5, 476.3), (777.7, 480.9), (772.5, 490.9), (780.4, 501.8),
            (767.3, 500), (762, 511.9), (757, 511), (759.5, 518.2), (766, 521), (759.5, 523.7), (753, 536.5), (738.7, 538.3),
            (723, 548.3), (708.7, 558.3), (710, 572), (711.3, 579.3), (699.6, 578.4), (684, 581), (680, 590), (663, 594.8),
            (641, 589.3), (629.3, 588.4), (613.7, 579.3), (602, 576.6), (593, 577.5), (582.4, 568.4), (573.3, 557.4), (577.2, 539.2),
            (595.5, 522.8), (602, 511.9), (579.8, 499)]]
HUELVA = [[(602.8, 578), (612.8, 578.7), (612.8, 583.4), (630, 585.8), (631.4, 591.2), (642.9, 588.9), (660, 595.9), (665.8, 601.4),
           (661.5, 607.6), (650, 611.6), (634.3, 619.4), (634.3, 621.7), (645.7, 627.2), (651.5, 637.3), (647.2, 642), (650, 648.3),
           (645.7, 665.5), (648.6, 678), (648.6, 685), (637, 678), (615.7, 664), (588.4, 654.5), (567, 656), (565.5, 648.3),
           (558.4, 629.5), (565.5, 612.3), (578.4, 601.4), (579.8, 593.6), (598.5, 589.7)]]
SEVILLA = [[(661.5, 596), (680, 590.5), (683, 582.6), (695.9, 578), (698.7, 581), (696, 585.8), (706, 582.3), (714.5, 590.5),
            (716, 596.7), (726, 604.5), (728.8, 616), (721.7, 617), (724.5, 624), (740.3, 617.8), (746, 619.4), (750.3, 614.7),
            (756, 620), (757.5, 628), (764.6, 635.8), (769, 645), (776, 644.4), (779, 649), (774.7, 650.6), (773.2, 654.5),
            (767.5, 657.7), (764.6, 655.3), (757.5, 657.7), (759, 660.8), (749, 667), (740.3, 668.6), (734.6, 674), (730.3, 667.8),
            (718.8, 675), (720.2, 669.4), (713, 667), (710, 678), (700, 672.5), (684.4, 681.9), (665.8, 680.3), (650, 678),
            (645.7, 665.5), (650, 648.3), (647.2, 642), (651.5, 637.3), (645.7, 627.2), (634.3, 621.7), (634.3, 619.4), (650, 611.6),
            (661.5, 607.6), (665.8, 601.4)]]
CADIZ = [[(648.6, 678), (665.8, 680.3), (684.4, 681.9), (700, 672.5), (710, 678), (713, 667), (720.2, 669.4), (718.8, 675),
          (730.3, 667.8), (734.6, 674), (743, 671.7), (746, 673.3), (741.7, 683.5), (731.7, 679.5), (726, 684), (730.3, 687.4),
          (727.4, 695), (717.4, 701.4), (716, 706), (720.2, 706), (726, 712.4), (729, 721.7), (733, 722.5), (726, 732.7),
          (724.5, 735.8), (718.8, 734.3), (717.4, 741.3), (706, 746.7), (694.5, 742), (671.5, 732.7), (657.2, 714), (654.3, 707.7),
          (647, 696.7), (642.3, 690.5), (648.6, 685)]]
MALAGA = [[(734.6, 674), (740.3, 668.6), (749, 667), (759, 660.8), (757.5, 657.7), (764.6, 655.3), (767.5, 657.7), (773.2, 654.5),
           (774.7, 650.6), (783.3, 653.8), (794.7, 651.4), (799, 648.3), (804.8, 654.5), (806.2, 655.3), (809, 667), (817.6, 673.3),
           (834.8, 678), (847.7, 682.7), (847.7, 689.7), (826, 689.7), (797.6, 692), (791.9, 700), (777.5, 706), (757.5, 708.5),
           (740.3, 715.5), (733, 722.5), (729, 721.7), (726, 712.4), (720.2, 706), (716, 706), (717.4, 701.4), (727.4, 695),
           (730.3, 687.4), (726, 684), (731.7, 679.5), (741.7, 683.5), (746, 673.3), (743, 671.7)]]
CORDOBA = [[(753, 536.5), (763.4, 539.2), (763.4, 543.8), (780.4, 550), (796, 561), (809, 565.6), (812.9, 570.2), (818, 581), (809, 590),
            (809, 606.7), (816.8, 615.8), (824.6, 630.4), (828.5, 638.6), (822, 639), (813.4, 645), (806.2, 655.3), (797.3, 648.6),
            (790.8, 652.2), (780.4, 650.4), (776, 644.4), (769, 645), (764.6, 635.8), (757.5, 628), (756, 620), (750.3, 614.7),
            (746, 619.4), (740.3, 617.8), (724.5, 624), (721.7, 617), (728.8, 616), (726, 604.5), (716, 596.7), (714.5, 590.5),
            (706, 582.3), (711.3, 579.3), (710, 572), (708.7, 558.3), (723, 548.3), (738.7, 538.3)]]
JAEN = [[(809, 562), (842.8, 563.8), (862.4, 561), (874, 561), (884.5, 556.5), (905.4, 560), (915.8, 555.6), (926.2, 552), (941.8, 561),
         (951, 573), (944.4, 585.7), (940.5, 587.5), (928.8, 595.7), (917, 609.4), (915.8, 617.6), (900, 620.3), (884.5, 621.2),
         (870.2, 623), (862.4, 626.7), (853.3, 626.7), (844.2, 633), (842.8, 640.4), (828.5, 638.6), (824.6, 630.4), (816.8, 615.8),
         (809, 606.7), (809, 590), (818, 581), (812.9, 570.2)]]
CIUDAD_REAL = [[(777.7, 480.9), (789.5, 471.8), (798.6, 477.2), (814.2, 477.2), (818, 470.8), (827.3, 470.8), (826, 480), (820.7, 480.9),
                (819.4, 486.3), (832.4, 487.3), (833.7, 490), (841.6, 493.6), (853.3, 492.7), (867.6, 490.9), (871.5, 485.4), (884.5, 482.7),
                (897.6, 477.2), (912, 478), (915.8, 484.5), (919.7, 488), (926.2, 484.5), (930, 493.6), (921, 503.7), (923.6, 511.9),
                (918.4, 519.2), (928.8, 532), (936, 536.5), (927.5, 546.5), (926.2, 552), (915.8, 555.6), (905.4, 560), (884.5, 556.5),
                (874, 561), (862.4, 561), (842.8, 563.8), (809, 562), (796, 561), (780.4, 550), (763.4, 543.8), (763.4, 539.2), (753, 536.5),
                (759.5, 523.7), (766, 521), (759.5, 518.2), (757, 511), (762, 511.9), (767.3, 500), (780.4, 501.8), (772.5, 490.9)]]
GRANADA = [[(837.7, 640.5), (842.8, 640.4), (844.2, 633), (853.3, 626.7), (862.4, 626.7), (870.2, 623), (884.5, 621.2), (900, 620.3),
            (915.8, 617.6), (917, 609.4), (928.8, 595.7), (940.5, 587.5), (944.4, 585.7), (959.3, 590), (968.4, 599.3), (962.3, 601.4),
            (963, 607), (956.6, 621.7), (956.6, 628), (936.5, 639), (933.7, 652.2), (922.2, 648.3), (913.6, 657), (906.5, 662.4),
            (909.4, 671.7), (902, 679.5), (898, 688), (886.4, 689), (872, 692.8), (859, 689.7), (852, 690.5), (847.7, 689.7),
            (847.7, 682.7), (834.8, 678), (817.6, 673.3), (809, 667), (806.2, 655.3), (813.4, 645), (822, 639)]]
ALMERIA = [[(963, 602.4), (968.4, 599.3), (986.6, 602.4), (984.8, 618), (999.4, 635.8), (1014, 640), (1001.2, 654.5), (994, 669),
            (984.8, 679.5), (973.8, 691), (959.3, 683.7), (946.5, 683.7), (939.2, 688), (926.5, 694.4), (898, 688), (902, 679.5),
            (909.4, 671.7), (906.5, 662.4), (913.6, 657), (922.2, 648.3), (933.7, 652.2), (936.5, 639), (956.6, 628), (956.6, 621.7)]]
BALEARES = [[(1323.8, 468), (1343.9, 459.8), (1351, 452.5), (1374.9, 444), (1385.8, 441.6), (1380.4, 447.3), (1387.7, 449.3), (1384, 454.5),
             (1402, 454.5), (1408.4, 459.8), (1405.9, 469), (1395, 479.5), (1391.3, 486.8), (1378.5, 494), (1369.4, 485.8), (1354.8, 484.8),
             (1353, 475.4), (1336.6, 473.3), (1334.8, 478.5), (1325.7, 472.3)],
            [(1436.9, 433.7), (1460.6, 433.7), (1469.7, 437.9), (1473.3, 450.4), (1460.6, 447.3), (1449.6, 443.1), (1438.7, 443.1)],
            [(1236.3, 518), (1241.8, 512.9), (1258.2, 507), (1265.5, 510.8), (1254.6, 518), (1249, 526.4), (1236.3, 524.3)],
            [(1249, 536.8), (1254.6, 534.7), (1262.6, 541), (1249, 541.6)]]
TENERIFE = [[(102, 863), (107.3, 858), (115.9, 859), (118, 864.3), (116.3, 873.8), (111.6, 881.3), (107.3, 873.8), (103, 867)],
            [(169.3, 888.8), (182, 886.7), (190.6, 886), (198, 883.3), (201.3, 877.9), (207.7, 875.6), (216.3, 875.2), (217.3, 876.5),
             (209.9, 880.6), (203.5, 886), (202.4, 894.2), (198, 902.4), (190.6, 909.2), (182, 909.2), (173.5, 897)],
            [(144.7, 897.9), (152.2, 899), (156.9, 903), (153.3, 907.8), (146.8, 907.8), (142.6, 902.4)],
            [(92.4, 926.2), (102, 923.5), (105.2, 920.7), (108.4, 921.4), (105.2, 927.5), (102.4, 932.3), (96.7, 928.2)]]
LAS_PALMAS = [[(244, 910.5), (252.6, 901.7), (261, 901.7), (269.7, 903.7), (271.8, 913.3), (268.6, 921.4), (259, 926.2), (250.4, 922.8), (245.1, 917.3)],
              [(357.2, 866.3), (363.6, 864.3), (367.9, 867.7), (367.5, 876.5), (365.8, 886), (361.5, 894.2), (346.6, 899), (337, 907.1),
               (327.3, 904.8), (339, 903), (344.4, 897), (346.6, 888.8), (350.8, 883.3), (357.2, 871)],
              [(365.8, 856), (369, 847.3), (373.3, 844), (381.8, 841), (386, 842), (389.3, 835), (393, 837), (390.4, 848), (376.5, 852.7), (371, 856.8)],
              [(387.6, 833.7), (388.9, 831.4), (389.7, 833)]]

OUTLINES = {"La Coruña": LA_CORUNA, "Lugo": LUGO, "Asturias": ASTURIAS, "León": LEON, "Valladolid": VALLADOLID, "Burgos": BURGOS,
            "Palencia": PALENCIA, "Cantabria": CANTABRIA, "Bizkaia": BIZKAIA, "Gipuzkoa": GIPUZKOA, "Álava": ALAVA, "Navarra": NAVARRA,
            "La Rioja": LA_RIOJA, "Soria": SORIA, "Zaragoza": ZARAGOZA, "Huesca": HUESCA, "Lleida": LLEIDA, "Girona": GIRONA,
            "Barcelona": BARCELONA, "Tarragona": TARRAGONA, "Teruel": TERUEL, "Castellón": CASTELLON, "Valencia": VALENCIA,
            "Alicante": ALICANTE, "Murcia": MURCIA, "Albacete": ALBACETE, "Cuenca": CUENCA, "Guadalajara": GUADALAJARA, "Madrid": MADRID,
            "Toledo": TOLEDO, "Cáceres": CACERES, "Salamanca": SALAMANCA, "Zamora": ZAMORA, "Ourense": OURENSE, "Pontevedra": PONTEVEDRA,
            "Segovia": SEGOVIA, "Ávila": AVILA, "Badajoz": BADAJOZ, "Huelva": HUELVA, "Sevilla": SEVILLA, "Cádiz": CADIZ, "Málaga": MALAGA,
            "Córdoba": CORDOBA, "Jaén": JAEN, "Ciudad Real": CIUDAD_REAL, "Granada": GRANADA, "Almería": ALMERIA, "Baleares": BALEARES,
            "Santa Cruz de Tenerife": TENERIFE, "Las Palmas": LAS_PALMAS}

# label anchors (x, y of the name line)
LABEL_POS = {"La Coruña": (479, 189.5), "León": (688, 228.8), "Burgos": (860, 240.5), "Valladolid": (764, 309.5), "Zaragoza": (1047, 307.5),
             "Barcelona": (1295.5, 300.7), "Madrid": (846, 388), "Guadalajara": (927, 367), "Toledo": (812, 442), "Cáceres": (658, 453),
             "Albacete": (985.5, 521.5), "Valencia": (1082, 484), "Alicante": (1095, 551), "Murcia": (1025, 588), "Huelva": (603, 617),
             "Sevilla": (690, 626), "Granada": (872, 646), "Almería": (966, 646.5), "Las Palmas": (303, 857.5),
             "Santa Cruz de Tenerife": (156, 912),
             "Asturias": (660, 174), "Lugo": (565, 191), "Cantabria": (819, 184), "Bizkaia": (922, 169), "Gipuzkoa": (980, 191),
             "Álava": (932, 211), "Navarra": (1006, 227), "Pontevedra": (462, 253), "Ourense": (554, 263), "Palencia": (786, 264),
             "La Rioja": (939, 253.5), "Huesca": (1137, 262.5), "Lleida": (1224.7, 271), "Girona": (1360.8, 268), "Soria": (937, 306),
             "Zamora": (690, 302.5), "Segovia": (820, 341), "Tarragona": (1212, 347.5), "Salamanca": (670, 370), "Ávila": (761, 383),
             "Teruel": (1071, 381), "Castellón": (1146, 414), "Cuenca": (967, 433), "Ciudad Real": (838, 523), "Badajoz": (658, 547),
             "Córdoba": (765, 577.5), "Jaén": (869, 586), "Málaga": (779, 673), "Cádiz": (688, 702.5), "Baleares": (1303, 488),
             "Ceuta": (753, 783), "Melilla": (869.5, 783)}


def rho_color(rho):
    if rho >= 0.5:
        return LEGEND_COLORS[0]
    if rho >= 0.25:
        return LEGEND_COLORS[1]
    if rho >= 0.1:
        return LEGEND_COLORS[2]
    if rho > -0.1:
        return LEGEND_COLORS[3]
    if rho > -0.25:
        return LEGEND_COLORS[4]
    if rho > -0.75:
        return LEGEND_COLORS[5]
    return LEGEND_COLORS[6]


def draw_province(ax, parts, color, edge="white"):
    for part in parts:
        xs, ys = zip(*part)
        ax.fill(xs, ys, facecolor=color, edgecolor=edge, linewidth=0.7, joinstyle="round")


fig = plt.figure(figsize=(16, 10.15), dpi=240, facecolor="white")
ax = fig.add_axes([0, 0, 1, 1])
ax.set_xlim(0, 1568)
ax.set_ylim(994.7, 0)
ax.axis("off")

# map
for name in EMPTY_NAMES:
    if name in OUTLINES:
        draw_province(ax, OUTLINES[name], LAND, "none" if name in ISLANDS else "white")
for name, rho in zip(NAMES, RHO):
    draw_province(ax, OUTLINES[name], rho_color(rho), "none" if name in ISLANDS else "white")
draw_province(ax, ZARAGOZA_HOLES, LAND)
for cx in (753.2, 869.2):
    ax.add_patch(Ellipse((cx, 763), 10.6, 10.6, facecolor=LAND, edgecolor="none"))

# labels
for name, n, rho in zip(NAMES, EMPRESAS, RHO):
    x, y = LABEL_POS[name]
    ax.text(x, y, name, ha="center", va="center", fontsize=6, fontweight="bold", color="#111111")
    ax.text(x, y + 11.8, f"Empresas: {n}", ha="center", va="center", fontsize=5, color="#222222")
    ax.text(x, y + 19.3, rf"$\rho_{{rel}}$: {rho:+.2f}", ha="center", va="center", fontsize=5, color="#222222")
for name in EMPTY_NAMES:
    x, y = LABEL_POS[name]
    small = name in ("Ceuta", "Melilla")
    ax.text(x, y, name, ha="center", va="center", fontsize=5.2 if small else 6, color="#555555")
    ax.text(x, y + (9.5 if not small else 10), "Sin empresas", ha="center", va="center",
            fontsize=4.2 if small else 4.8, color="#888888")

# header
ax.text(759.5, 30, TITLE, ha="center", va="center", fontsize=13.7, fontweight="bold")
for y, line in zip((68.7, 80.3), SUBTITLE):
    ax.text(759.5, y, line, ha="center", va="center", fontsize=6.8, style="italic")

# left panel
ax.text(65, 162.5, HEADING, va="center", fontsize=9.9, fontweight="bold")
ax.text(65, 204.5, SUMMARY, va="center", fontsize=8.35)
ax.text(65, 266, TOTAL, va="center", fontsize=9.1, fontweight="bold")
ax.plot([64.7, 312], [281.8, 281.8], color="#888888", linewidth=0.8)
ax.text(65, 308.5, TOP_TITLE, va="center", fontsize=7.5)
for y, line in zip((332.5, 349.5), TOP_COMPANIES):
    ax.text(65, y, line, va="center", fontsize=6.85, style="italic")
ax.text(65, 389.5, "Principales keywords", va="center", fontsize=7.8, fontweight="bold")
ax.text(65, 427.6, KEYWORDS, va="center", fontsize=6.85)
ax.text(65, 498.5, "Descripción del cluster", va="center", fontsize=7.65, fontweight="bold")
ax.text(65, 590, DESCRIPTION, va="center", fontsize=6.85, color="#444444")

# colour references
ax.text(1317, 809.5, "Referencias de colores", va="center", fontsize=8.1)
for i, (label, color) in enumerate(zip(LEGEND_LABELS, LEGEND_COLORS)):
    y = 837.8 + i * 15.65
    ax.add_patch(Rectangle((1317, y - 3.05), 20, 6.1, facecolor=color, edgecolor="none"))
    ax.text(1346, y, label, va="center", fontsize=7.5)

fig.savefig("out.png", dpi=240)
